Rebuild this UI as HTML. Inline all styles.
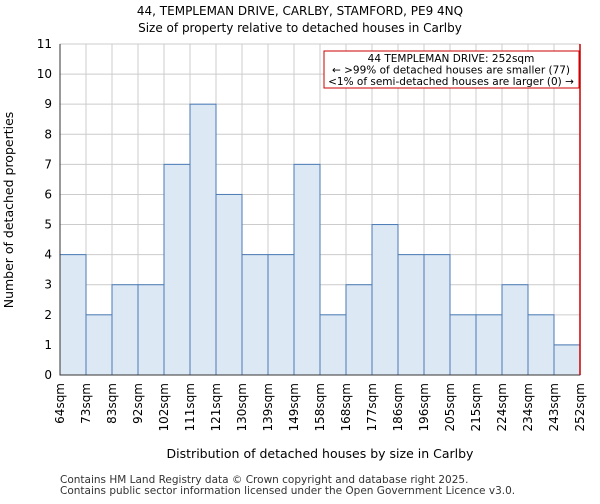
<!DOCTYPE html>
<html><head><meta charset="utf-8"><style>
body{margin:0;background:#fff;font-family:"DejaVu Sans","Liberation Sans",sans-serif}
svg text{font-family:"DejaVu Sans","Liberation Sans",sans-serif}
</style></head><body>
<svg id="chart" width="600" height="500" xmlns="http://www.w3.org/2000/svg">
<rect width="600" height="500" fill="#fff"/>
<text x="300" y="15" text-anchor="middle" font-size="12">44, TEMPLEMAN DRIVE, CARLBY, STAMFORD, PE9 4NQ</text>
<text x="300" y="32" text-anchor="middle" font-size="12">Size of property relative to detached houses in Carlby</text>
<g id="grid"></g><g id="bars"></g><g id="axes"></g>
<text x="320" y="458" text-anchor="middle" font-size="12.5">Distribution of detached houses by size in Carlby</text>
<text transform="translate(13,210) rotate(-90)" text-anchor="middle" font-size="12.5">Number of detached properties</text>
<text x="60" y="483" font-size="10.5" fill="#333">Contains HM Land Registry data © Crown copyright and database right 2025.</text>
<text x="60" y="494" font-size="10.5" fill="#333">Contains public sector information licensed under the Open Government Licence v3.0.</text>
</svg>
<script>
const tickLabels=["64sqm","73sqm","83sqm","92sqm","102sqm","111sqm","121sqm","130sqm","139sqm","149sqm","158sqm","168sqm","177sqm","186sqm","196sqm","205sqm","215sqm","224sqm","234sqm","243sqm","252sqm"];
const counts=[4,2,3,3,7,9,6,4,4,7,2,3,5,4,4,2,2,3,2,1];
const yTicks=[0,1,2,3,4,5,6,7,8,9,10,11];
const markerIndex=20;
const NS="http://www.w3.org/2000/svg";
const x0=60,x1=580,yTop=44,yBot=375,yMax=11;
const step=(x1-x0)/counts.length;
const xs=i=>x0+i*step;
const ys=v=>yBot-(v/yMax)*(yBot-yTop);
function mk(tag,attrs,parent){const e=document.createElementNS(NS,tag);for(const k in attrs)e.setAttribute(k,attrs[k]);document.getElementById(parent).appendChild(e);return e;}
yTicks.forEach(v=>{
 const l=mk('line',{x1:x0,x2:x1,y1:ys(v),y2:ys(v),stroke:'#ccc'},'grid');
 
 
 const t=mk('text',{x:x0-8,y:ys(v)+4,'text-anchor':'end','font-size':12},'axes');
 t.textContent=v;
 
 
});
tickLabels.forEach((s,i)=>{
 const l=mk('line',{x1:xs(i),x2:xs(i),y1:yTop,y2:yBot,stroke:'#ccc'},'grid');
 
 
 const t=mk('text',{transform:`translate(${xs(i)+4},${yBot+8}) rotate(-90)`,'text-anchor':'end','font-size':12},'axes');
 t.textContent=s;
 
 
});
counts.forEach((c,i)=>{
 const r=mk('rect',{x:xs(i),y:ys(c),width:step,height:yBot-ys(c),fill:'#dde8f5',stroke:'#4a7ab5','stroke-width':1},'bars');
 
 
});
const ax=mk('path',{d:`M${x0},${yTop}V${yBot}H${x1}`,fill:'none',stroke:'#333'},'axes');


const m=mk('line',{x1:xs(markerIndex),x2:xs(markerIndex),y1:yTop,y2:yBot,stroke:'#c00','stroke-width':1.5},'axes');


const bx=mk('rect',{x:324,y:51,width:255,height:37,fill:'#fff',stroke:'#c00'},'axes');


["44 TEMPLEMAN DRIVE: 252sqm","← >99% of detached houses are smaller (77)","<1% of semi-detached houses are larger (0) →"].forEach((s,i)=>{
 const t=mk('text',{x:451,y:62+i*11.5,'text-anchor':'middle','font-size':10.5},'axes');
 t.textContent=s;
 
 
});
</script>
</body></html>
